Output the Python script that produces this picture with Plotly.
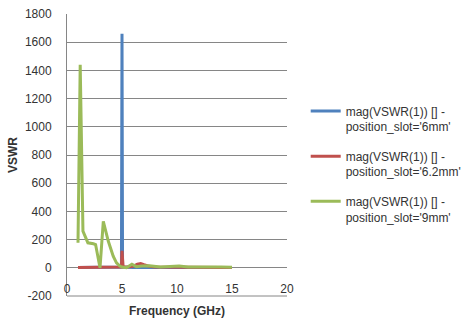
import plotly.graph_objects as go

# Series 1: position_slot='6mm'
freq_6mm = [1, 2, 3, 4, 4.95, 5.0, 5.05, 6, 7, 8, 9, 10, 11, 12, 13, 14, 15]
vswr_6mm = [2, 2, 2, 3, 5, 1660, 5, 3, 4, 3, 3, 3, 3, 3, 3, 3, 3]

# Series 2: position_slot='6.2mm'
freq_62mm = [1, 2, 3, 4, 4.95, 5.0, 5.1, 5.5, 6, 6.4, 6.7, 7, 7.5, 8, 9, 10, 11, 12, 13, 14, 15]
vswr_62mm = [3, 3, 3, 4, 5, 120, 8, 5, 10, 25, 30, 22, 10, 5, 4, 6, 3, 3, 4, 3, 3]

# Series 3: position_slot='9mm'
freq_9mm = [1.0, 1.2, 1.45, 1.9, 2.4, 2.6, 3.0, 3.3, 3.75, 4.2, 4.5, 4.8, 5.0, 5.4, 5.9,
            6.3, 6.8, 7.5, 8.5, 9.5, 10.2, 11, 12, 13, 14, 15]
vswr_9mm = [177, 1440, 260, 177, 170, 165, 0, 330, 190, 83, 35, 12, 5, 0, 25,
            8, 12, 15, 5, 10, 12, 6, 8, 5, 6, 4]

series_names = [
    "mag(VSWR(1)) [] -<br>position_slot='6mm'",
    "mag(VSWR(1)) [] -<br>position_slot='6.2mm'",
    "mag(VSWR(1)) [] -<br>position_slot='9mm'",
]
colors = ["#4F81BD", "#C0504D", "#9BBB59"]

x_ticks = [0, 5, 10, 15, 20]
y_ticks = [-200, 0, 200, 400, 600, 800, 1000, 1200, 1400, 1600, 1800]
y_tick_labels = ["-200", "0", "200", "400", "600", "800", "1000", "1200", "1400", "1600", "1800"]

fig = go.Figure()
for i, (fx, fy, name, c) in enumerate(zip([freq_6mm, freq_62mm, freq_9mm],
                                          [vswr_6mm, vswr_62mm, vswr_9mm],
                                          series_names, colors)):
    fig.add_trace(go.Scatter(x=fx, y=fy, mode="lines", name=name,
                             legendgroup=f"g{i}",
                             line=dict(color=c, width=3)))

# bottom axis line of the plot area
fig.add_shape(type="line", xref="x domain", yref="y domain",
              x0=0, x1=1, y0=0, y1=0, layer="below",
              line=dict(color="#868686", width=1))

font_family = "Liberation Sans, Arial, sans-serif"
txt = "#333333"
fig.update_layout(
    width=467, height=320,
    margin=dict(l=67, r=180, t=14, b=24, autoexpand=False),
    paper_bgcolor="white", plot_bgcolor="white",
    font=dict(family=font_family, size=12, color=txt),
    showlegend=True,
    legend=dict(x=1.085, xanchor="left", y=0.707, yanchor="top",
                valign="top", tracegroupgap=11,
                font=dict(size=12, color=txt),
                bgcolor="rgba(0,0,0,0)"),
    xaxis=dict(range=[0, 20], tickvals=x_ticks, showgrid=False, zeroline=False,
               anchor="free", position=0.058,
               showline=False, ticks="", showticklabels=True,
               tickfont=dict(size=12, color=txt),
               title=dict(text="<b>Frequency (GHz)</b>", standoff=11,
                          font=dict(size=12, color=txt))),
    yaxis=dict(range=[-200, 1800], tickvals=y_ticks, ticktext=y_tick_labels,
               showgrid=True, gridcolor="#868686", gridwidth=1,
               zeroline=True, zerolinecolor="#868686", zerolinewidth=1,
               showline=True, linecolor="#868686", linewidth=1,
               ticks="", ticklabelstandoff=12,
               title=dict(text="<b>VSWR</b>", standoff=4,
                          font=dict(size=12, color=txt))),
)

fig.write_html("out.html")
